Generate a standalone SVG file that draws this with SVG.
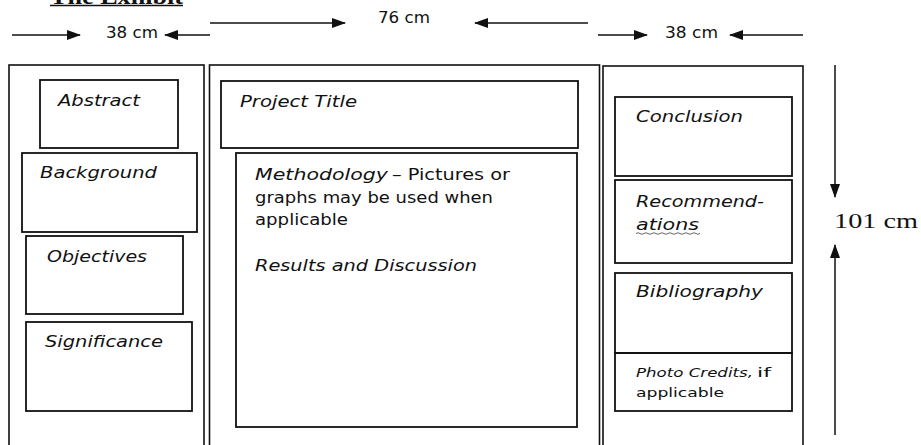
<svg xmlns="http://www.w3.org/2000/svg" width="921" height="445" viewBox="0 0 921 445">
<style>
.panel{fill:none;stroke:#111;stroke-width:1.6}
.box{fill:none;stroke:#111;stroke-width:1.8}
.lbl{font-family:"DejaVu Sans",Verdana,sans-serif;font-size:16px;font-style:italic;fill:#111}
.txt{font-family:"DejaVu Sans",Verdana,sans-serif;font-size:16px;fill:#111}
.sm{font-size:13px}
.dim{font-family:"DejaVu Sans",Verdana,sans-serif;font-size:15px;fill:#111}
.serif{font-family:"Liberation Serif",serif;font-size:20px;fill:#111}
.conn{stroke:#111;stroke-width:1.5;fill:none}
</style>
<defs>
<marker id="ah" viewBox="0 0 14 10" refX="13" refY="5" markerWidth="14" markerHeight="10" markerUnits="userSpaceOnUse" orient="auto">
<path d="M0,0 L14,5 L0,10 Z" fill="#111"/>
</marker>
</defs>
<rect width="921" height="445" fill="#fff"/>
<g id="title">
<text x="50" y="4" font-family="Liberation Serif,serif" font-weight="bold" font-size="24" textLength="133" lengthAdjust="spacingAndGlyphs" fill="#111">The Exhibit</text>
<line x1="50" y1="5.5" x2="183" y2="5.5" stroke="#111" stroke-width="1.5"/>
</g>
<g id="panel-left">
<rect class="panel" x="9" y="65" width="195" height="390"/>
</g>
<g id="panel-middle">
<rect class="panel" x="209.5" y="65" width="390" height="390"/>
</g>
<g id="panel-right">
<rect class="panel" x="603" y="66" width="200" height="390"/>
</g>
<g id="abstract">
<rect class="box" x="40" y="80" width="138" height="68"/>
<text class="lbl" x="58" y="106" textLength="82" lengthAdjust="spacingAndGlyphs">Abstract</text>
</g>
<g id="background">
<rect class="box" x="22" y="153" width="175" height="79"/>
<text class="lbl" x="40" y="178" textLength="117" lengthAdjust="spacingAndGlyphs">Background</text>
</g>
<g id="objectives">
<rect class="box" x="26" y="236" width="157" height="78"/>
<text class="lbl" x="47" y="262" textLength="100" lengthAdjust="spacingAndGlyphs">Objectives</text>
</g>
<g id="significance">
<rect class="box" x="26" y="322" width="166" height="89"/>
<text class="lbl" x="45" y="347" textLength="118" lengthAdjust="spacingAndGlyphs">Significance</text>
</g>
<g id="project-title">
<rect class="box" x="221" y="81" width="357" height="67"/>
<text class="lbl" x="240" y="107" textLength="117" lengthAdjust="spacingAndGlyphs">Project Title</text>
</g>
<g id="methodology">
<rect class="box" x="236" y="153" width="341" height="274"/>
<text class="lbl" x="255" y="180" textLength="133" lengthAdjust="spacingAndGlyphs">Methodology</text>
<text class="txt" x="392" y="180" textLength="118" lengthAdjust="spacingAndGlyphs">– Pictures or</text>
<text class="txt" x="255" y="203" textLength="238" lengthAdjust="spacingAndGlyphs">graphs may be used when</text>
<text class="txt" x="255" y="225" textLength="93" lengthAdjust="spacingAndGlyphs">applicable</text>
<text class="lbl" x="255" y="271" textLength="222" lengthAdjust="spacingAndGlyphs">Results and Discussion</text>
</g>
<g id="conclusion">
<rect class="box" x="615" y="97" width="177" height="79"/>
<text class="lbl" x="636" y="122" textLength="107" lengthAdjust="spacingAndGlyphs">Conclusion</text>
</g>
<g id="recommendations">
<rect class="box" x="615" y="180" width="177" height="83"/>
<text class="lbl" x="636" y="207" textLength="128" lengthAdjust="spacingAndGlyphs">Recommend-</text>
<text class="lbl" x="636" y="230" textLength="63" lengthAdjust="spacingAndGlyphs">ations</text>
<path d="M636,233.5 q2,-1.5 4,0 t4,0 t4,0 t4,0 t4,0 t4,0 t4,0 t4,0 t4,0 t4,0 t4,0 t4,0 t4,0 t4,0 t4,0 t4,0" fill="none" stroke="#555" stroke-width="0.9"/>
</g>
<g id="bibliography">
<rect class="box" x="615" y="273" width="177" height="80"/>
<text class="lbl" x="636" y="297" textLength="127" lengthAdjust="spacingAndGlyphs">Bibliography</text>
</g>
<g id="photo-credits">
<rect class="box" x="615" y="353" width="177" height="58"/>
<text class="lbl sm" x="636" y="377" textLength="117" lengthAdjust="spacingAndGlyphs">Photo Credits,</text>
<text class="txt sm" x="757" y="377" textLength="14" lengthAdjust="spacingAndGlyphs">if</text>
<text class="txt sm" x="636" y="397" textLength="88" lengthAdjust="spacingAndGlyphs">applicable</text>
</g>
<g id="connectors">
<line class="conn" x1="12" y1="35" x2="80" y2="35" marker-end="url(#ah)"/>
<line class="conn" x1="210" y1="35" x2="165" y2="35" marker-end="url(#ah)"/>
<line class="conn" x1="210" y1="23" x2="345" y2="23" marker-end="url(#ah)"/>
<line class="conn" x1="588" y1="23" x2="475" y2="23" marker-end="url(#ah)"/>
<line class="conn" x1="598" y1="35" x2="647" y2="35" marker-end="url(#ah)"/>
<line class="conn" x1="803" y1="35" x2="730" y2="35" marker-end="url(#ah)"/>
<line class="conn" x1="835" y1="65" x2="835" y2="197" marker-end="url(#ah)"/>
<line class="conn" x1="835" y1="435" x2="835" y2="245" marker-end="url(#ah)"/>
</g>
<g id="dim-labels">
<text class="dim" x="106" y="38" textLength="52" lengthAdjust="spacingAndGlyphs">38 cm</text>
<text class="dim" x="378" y="23" textLength="52" lengthAdjust="spacingAndGlyphs">76 cm</text>
<text class="dim" x="665" y="38" textLength="53" lengthAdjust="spacingAndGlyphs">38 cm</text>
<text class="serif" x="834" y="228" textLength="84" lengthAdjust="spacingAndGlyphs">101 cm</text>
</g>
</svg>
